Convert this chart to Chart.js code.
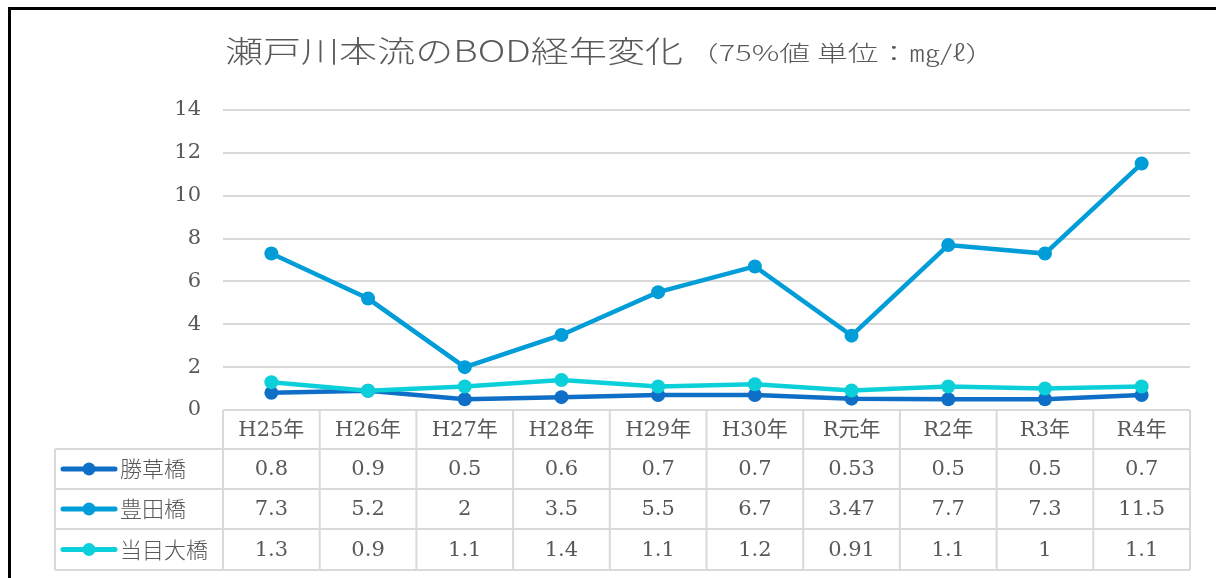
<!DOCTYPE html>
<html>
<head>
<meta charset="utf-8">
<script src="https://cdn.jsdelivr.net/npm/chart.js@4"></script>
<style>
  html, body { margin: 0; padding: 0; background: #fff; }
  #wrap { width: 1216px; height: 578px; position: relative; }
</style>
</head>
<body>
<div id="wrap"><canvas id="chart1" width="1216" height="578"></canvas></div>
<script>
// data
const years = ['H25年', 'H26年', 'H27年', 'H28年', 'H29年', 'H30年', 'R元年', 'R2年', 'R3年', 'R4年'];
const katsukusa = [0.8, 0.9, 0.5, 0.6, 0.7, 0.7, 0.53, 0.5, 0.5, 0.7];
const toyoda = [7.3, 5.2, 2, 3.5, 5.5, 6.7, 3.47, 7.7, 7.3, 11.5];
const toume = [1.3, 0.9, 1.1, 1.4, 1.1, 1.2, 0.91, 1.1, 1, 1.1];
const seriesNames = ['勝草橋', '豊田橋', '当目大橋'];
const yTicks = [0, 2, 4, 6, 8, 10, 12, 14];
const titleMain = '瀬戸川本流のBOD経年変化';
const titleSub = '（75%値 単位：㎎/ℓ）';

const colors = ['#0F6FC6', '#009DD9', '#0BD0D9'];
const serif = '"DejaVu Serif", "Liberation Serif", "Noto Sans CJK JP", serif';
const sans = '"Noto Sans CJK JP", "Noto Sans", sans-serif';
const textColor = '#595959';
const gridColor = '#d9d9d9';

// frame, title and data table
const extras = {
    id: 'extras',
    beforeDraw(chart) {
        const c = chart.ctx;
        c.save();
        c.fillStyle = '#000';
        c.fillRect(8, 7, 1208, 3);
        c.fillRect(8, 7, 3, 571);

        // title, slightly stretched like the original
        c.fillStyle = textColor;
        c.textBaseline = 'alphabetic';
        c.font = '300 30px ' + sans;
        const w1 = c.measureText(titleMain).width;
        c.save();
        c.translate(225, 62);
        c.scale(458 / w1, 1);
        c.fillText(titleMain, 0, 0);
        c.restore();
        c.font = '300 22px ' + sans;
        const w2 = c.measureText(titleSub).width;
        c.save();
        c.translate(688, 61);
        c.scale(308 / w2, 1);
        c.fillText(titleSub, 0, 0);
        c.restore();
        c.restore();
    },
    afterDraw(chart) {
        const c = chart.ctx;
        const x = chart.scales.x;
        const area = chart.chartArea;
        const rowTop = [410, 449, 489, 529];
        const rowBot = 570;
        const tableLeft = 55;
        const colW = (area.right - area.left) / years.length;
        c.save();
        c.strokeStyle = gridColor;
        c.lineWidth = 2;
        c.beginPath();
        // horizontal lines
        c.moveTo(area.left, rowTop[0]); c.lineTo(area.right, rowTop[0]);
        for (let i = 1; i < rowTop.length; i++) {
            c.moveTo(tableLeft, rowTop[i]); c.lineTo(area.right, rowTop[i]);
        }
        c.moveTo(tableLeft, rowBot); c.lineTo(area.right, rowBot);
        // vertical lines
        c.moveTo(tableLeft, rowTop[1]); c.lineTo(tableLeft, rowBot);
        for (let i = 0; i <= years.length; i++) {
            const xx = area.left + i * colW;
            c.moveTo(xx, rowTop[0]); c.lineTo(xx, rowBot);
        }
        c.stroke();

        c.fillStyle = textColor;
        c.textAlign = 'center';
        c.textBaseline = 'middle';
        c.font = '21px ' + serif;
        years.forEach((y, i) => {
            c.fillText(y, x.getPixelForValue(i), (rowTop[0] + rowTop[1]) / 2 + 1);
        });
        const rows = [katsukusa, toyoda, toume];
        rows.forEach((vals, r) => {
            const cy = (rowTop[r + 1] + (rowTop[r + 2] || rowBot)) / 2 + 1;
            vals.forEach((v, i) => {
                c.fillText(String(v), x.getPixelForValue(i), cy);
            });
            // legend key
            c.strokeStyle = colors[r];
            c.lineWidth = 5;
            c.lineCap = 'round';
            c.beginPath();
            c.moveTo(63, cy - 1); c.lineTo(115, cy - 1);
            c.stroke();
            c.fillStyle = colors[r];
            c.beginPath();
            c.arc(89, cy - 1, 6.5, 0, Math.PI * 2);
            c.fill();
            c.fillStyle = textColor;
            c.textAlign = 'left';
            c.font = '300 22px ' + sans;
            c.fillText(seriesNames[r], 120, cy - 1);
            c.textAlign = 'center';
            c.font = '21px ' + serif;
        });
        c.restore();
    }
};

const ctx1 = document.getElementById('chart1').getContext('2d');
new Chart(ctx1, {
    type: 'line',
    data: {
        labels: years,
        datasets: [
            { label: seriesNames[0], data: katsukusa, borderColor: colors[0], backgroundColor: colors[0], order: 3 },
            { label: seriesNames[1], data: toyoda, borderColor: colors[1], backgroundColor: colors[1], order: 2 },
            { label: seriesNames[2], data: toume, borderColor: colors[2], backgroundColor: colors[2], order: 1 }
        ]
    },
    options: {
        responsive: false,
        animation: false,
        layout: { padding: { top: 110, right: 26, bottom: 168, left: 0 } },
        elements: {
            line: { borderWidth: 4.5, tension: 0 },
            point: { radius: 7, borderWidth: 0, hoverRadius: 7 }
        },
        scales: {
            x: { display: false, offset: true },
            y: {
                min: 0, max: 14,
                afterBuildTicks(scale) { scale.ticks = yTicks.map(v => ({ value: v })); },
                afterFit(scale) { scale.width = 223; },
                border: { display: false },
                grid: { color: gridColor, lineWidth: 2, drawTicks: false },
                ticks: {
                    color: textColor,
                    padding: 22,
                    font: { family: serif, size: 21 }
                }
            }
        },
        plugins: {
            legend: { display: false },
            title: { display: false },
            tooltip: { enabled: false }
        }
    },
    plugins: [extras]
});
</script>
</body>
</html>
